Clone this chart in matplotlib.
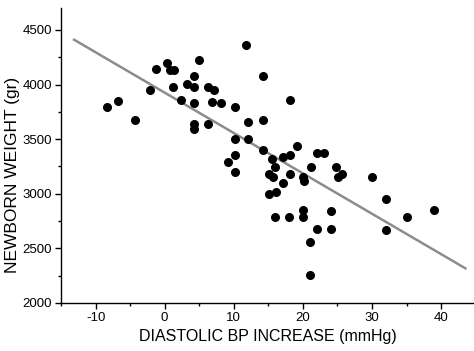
import matplotlib.pyplot as plt
from matplotlib.ticker import MultipleLocator

plt.rcParams['font.family'] = ['Liberation Sans', 'DejaVu Sans']
plt.rcParams['axes.unicode_minus'] = False

# diastolic BP increase (mmHg) and newborn weight (gr)
bp_increase = [
    -8.3, -6.7, -4.3, -2.1, -1.2, 0.3, 0.8, 1.3, 1.25, 2.3,
    3.2, 4.2, 4.2, 4.2, 4.9, 4.2, 4.2, 6.2, 6.2, 6.8,
    7.2, 8.2, 9.1, 11.75, 10.2, 14.2, 18.2, 12.1, 14.2, 10.2,
    12.1, 14.2, 10.2, 19.1, 15.5, 17.15, 18.2, 22.1, 23.1, 15.9,
    21.1, 24.8, 10.2, 15.1, 15.7, 18.1, 17.1, 15.1, 16.1, 20.0,
    20.1, 25.7, 25.1, 16.0, 18.0, 20.0, 20.0, 24.0, 22.0, 24.0,
    21.05, 21.0, 30.0, 32.0, 39.0, 35.0, 32.0,
]
newborn_weight = [
    3795, 3846, 3679, 3947, 4145, 4196, 4132, 4132, 3977, 3862,
    4002, 4078, 3977, 3831, 4227, 3636, 3597, 3977, 3636, 3840,
    3947, 3831, 3290, 4364, 3794, 4078, 3855, 3657, 3679, 3499,
    3499, 3398, 3353, 3438, 3322, 3332, 3359, 3377, 3377, 3246,
    3246, 3246, 3200, 3179, 3154, 3185, 3100, 2999, 3017, 3149,
    3118, 3179, 3149, 2783, 2783, 2850, 2783, 2841, 2679, 2679,
    2555, 2253, 3154, 2948, 2847, 2783, 2667,
]

# regression line end points
fit_x = [-13.1, 43.5]
fit_y = [4410, 2317]

fig = plt.figure(figsize=(4.74, 3.51), dpi=100)
ax = fig.add_axes([0.1287, 0.137, 0.872, 0.84])

ax.plot(fit_x, fit_y, color='0.55', linewidth=1.8, zorder=2)
ax.scatter(bp_increase, newborn_weight, s=30, color='black', zorder=3)

ax.set_xlim(-15, 44.8)
ax.set_ylim(2000, 4700)
ax.xaxis.set_major_locator(MultipleLocator(10))
ax.xaxis.set_minor_locator(MultipleLocator(5))
ax.yaxis.set_minor_locator(MultipleLocator(250))
ax.set_yticks([2000, 2500, 3000, 3500, 4000, 4500])

for s in ['top', 'right']:
    ax.spines[s].set_visible(False)
for s in ['left', 'bottom']:
    ax.spines[s].set_linewidth(1.0)

ax.tick_params(which='major', direction='out', length=4, width=1, labelsize=9.5, pad=2.5)
ax.tick_params(which='minor', direction='out', length=2, width=1)

ax.set_xlabel('DIASTOLIC BP INCREASE (mmHg)', fontsize=11.5, labelpad=4)
ax.set_ylabel('NEWBORN WEIGHT (gr)', fontsize=12.5)
ax.yaxis.set_label_coords(-0.10, 0.434)

fig.savefig('out.png', dpi=100)
